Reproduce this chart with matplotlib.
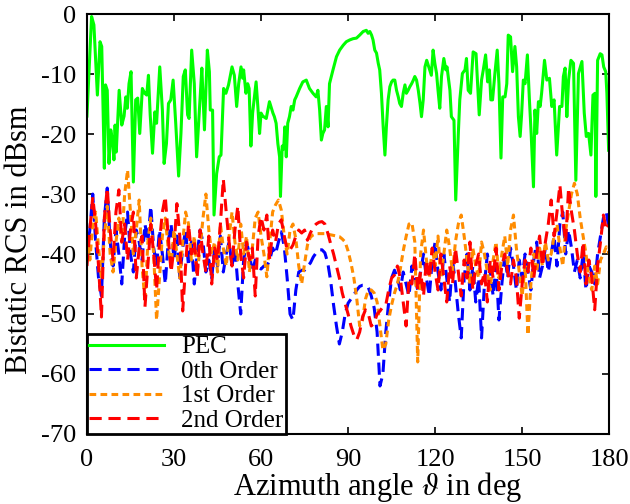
import matplotlib
matplotlib.use("Agg")
import matplotlib.pyplot as plt
import numpy as np

plt.rcParams['font.family'] = ['Liberation Serif', 'DejaVu Serif']
plt.rcParams['mathtext.fontset'] = 'stix'
plt.rcParams['axes.unicode_minus'] = False

# PEC (green) samples: angle (deg), RCS (dBsm)
pec_x = [0, 1.6, 2.4, 3.6, 4.5, 5.1, 6.0, 6.4, 7.0, 7.6, 8.2, 8.8, 9.3, 9.7, 10.1, 11.1, 12.0, 12.8, 13.4, 13.9,
         14.5, 15.2, 16.0, 16.8, 17.5, 18.2, 19.1, 19.9, 20.6, 21.2, 21.8, 22.6, 23.4, 24.0, 25.1, 26.0, 26.6, 27.4,
         28.1, 28.9, 29.7, 30.6, 31.6, 32.4, 33.2, 33.9, 34.7, 35.2, 36.1, 37.0, 37.8, 38.5, 39.0, 39.6, 40.5, 41.5,
         42.2, 42.5, 43.3, 43.8, 44.7, 45.6, 46.2, 47.1, 47.9, 48.8, 50.0, 50.8, 51.6, 52.3, 53.1, 53.7, 54.0, 54.8,
         55.4, 55.9, 56.5, 57.1, 58.3, 58.9, 59.5, 60.0, 60.6, 61.8, 62.9, 64.1, 64.6, 65.2, 65.8, 66.4, 66.7, 67.3,
         67.8, 68.2, 68.7, 69.2, 69.8, 70.4, 71.0, 71.6, 72.1, 73.3, 74.4, 75.6, 76.7, 77.9, 79.0, 79.6, 80.2, 80.8,
         81.3, 81.9, 82.5, 83.1, 83.6, 84.8, 86.0, 87.1, 88.3, 89.4, 90.6, 91.7, 92.9, 94.0, 95.2, 96.3, 96.9, 97.5,
         98.1, 98.6, 99.2, 99.8, 100.4, 100.9, 101.5, 102.1, 102.7, 103.2, 103.8, 104.4, 105.0, 105.5, 106.1, 106.7,
         107.3, 107.8, 108.4, 109.0, 109.6, 110.1, 110.7, 111.3, 111.9, 112.5, 113.0, 113.6, 114.2, 114.8, 115.3,
         115.9, 116.5, 117.1, 118.7, 119.3, 119.9, 120.5, 121.0, 121.6, 122.2, 123.0, 123.7, 124.1, 125.1, 125.6,
         126.5, 127.1, 128.0, 128.5, 129.4, 130.3, 130.8, 131.4, 132.2, 133.1, 134.1, 135.2, 136.0, 136.6, 137.4,
         138.1, 138.7, 139.2, 139.8, 140.6, 141.4, 142.0, 142.7, 143.3, 144.1, 144.7, 145.2, 146.0, 146.7, 147.5,
         148.1, 148.7, 149.3, 149.8, 150.4, 151.0, 151.8, 152.5, 153.1, 153.9, 154.4, 155.0, 155.6, 156.2, 156.7,
         157.7, 158.5, 159.4, 160.2, 161.0, 161.9, 162.9, 163.7, 164.2, 164.8, 165.4, 166.0, 166.8, 167.7, 168.5,
         169.4, 170.6, 171.4, 172.1, 172.9, 173.7, 174.4, 175.1, 175.4, 176.0, 176.9, 177.5, 178.1, 178.8, 179.2,
         179.8]
pec_y = [-17, -0.4, -1.8, -13.5, -4.6, -5.4, -25.7, -11.8, -12.7, -24.9, -19.3, -21, -24.3, -18.5, -23, -12.7,
         -18.5, -17, -13.8, -15.7, -11.6, -9.6, -28, -14.3, -14, -19.9, -12.4, -13.2, -13.5, -10.2, -16.8, -23.2,
         -16.3, -18.2, -8.8, -16, -24.9, -21.6, -14.9, -14.3, -11, -18.2, -27, -19.9, -10.4, -9.3, -16.8, -17.4,
         -6, -11.6, -23.8, -18.2, -14, -9, -19.3, -6, -9.6, -16, -16, -33.5, -26.6, -23.8, -23.5, -12.4, -13.2,
         -11.8, -8.8, -10.2, -15.4, -11.6, -8.8, -10.7, -9.3, -13.2, -11.6, -12.4, -22, -16.5, -11.3, -15.4, -19.9,
         -16.5, -17, -17.4, -14.6, -16.5, -17.1, -18.2, -21.6, -23.8, -30.4, -22, -22.5, -18.8, -23.8, -18.2,
         -17.1, -15.4, -16, -14.3, -13.8, -12.4, -11.3, -11, -12.4, -13.2, -13.8, -12.7, -16, -21, -19.9, -19.3,
         -15.4, -18.8, -11.6, -9.3, -7.1, -6, -5.2, -4.6, -4.3, -4.1, -4.0, -3.5, -2.9, -2.7, -3.2, -2.9, -3.5,
         -4.3, -6, -6.5, -8.2, -9.3, -13.2, -18.8, -23.5, -18.8, -14.3, -12.1, -11.3, -11, -11, -12.7, -13.8,
         -14.9, -15.4, -13.2, -11.8, -13.2, -12.7, -12.1, -11.6, -11, -10.4, -11, -12.7, -14.9, -17.1, -14.3,
         -8.8, -7.7, -10.2, -6, -8.2, -9.9, -12.7, -15.7, -10.4, -7.4, -9.3, -8.8, -12.7, -17.1, -17.7, -31,
         -19.9, -14.3, -9.9, -9.3, -7.4, -12.7, -13.2, -6.3, -6.6, -16.8, -11, -9.3, -6.8, -11.3, -9.3, -14.3,
         -14.3, -9.9, -6, -11.6, -24, -13.8, -13.8, -11.6, -3.5, -3.8, -9.6, -5.4, -8.8, -17.1, -20.4, -16.8,
         -11, -11.6, -6.8, -14.3, -19.9, -28.8, -16, -19.9, -14.6, -15.4, -13.2, -7.7, -11, -10.7, -15.4, -14.3,
         -23.5, -15.4, -15.4, -10.4, -9, -17.1, -11, -7.7, -8.2, -27.7, -9.9, -7.9, -16.5, -20.4, -19.9, -23.5,
         -13.5, -13.2, -30.4, -7.7, -6.6, -6.8, -8.8, -9.6, -13.2, -22.7]

# Approximation orders: one sample per degree, 0..180
angles = list(range(0, 181))
order0 = [-40, -36, -30, -38, -44, -47, -34, -29, -38, -42,
          -36, -40, -45, -37, -33, -40, -43, -36, -38, -41,
          -35, -38, -32, -39, -42, -36, -40, -45, -38, -35,
          -41, -37, -44, -39, -36, -42, -38, -45, -40, -36,
          -38, -43, -41, -44, -39, -42, -37, -43, -40, -38,
          -42, -39, -45, -50, -41, -38, -40, -43, -41, -42,
          -42.5, -42, -42, -41, -39, -40, -38, -36.3, -38.8, -44,
          -50, -51, -46, -43, -42.7, -42.7, -42, -41.5, -40.5, -39.8,
          -39.3, -39.3, -39.8, -41.5, -44.5, -48.5, -52, -55, -53, -50,
          -48.2, -47.5, -46.8, -46, -45.4, -45.2, -45.2, -45.6, -47, -49,
          -53, -62, -60, -53, -48, -44, -42.7, -44, -46, -43,
          -45, -47, -42, -44, -46, -43, -40, -44, -47, -41,
          -38, -43, -46, -40, -44, -48, -41, -45, -50, -54,
          -44, -40, -46, -42, -48, -44, -54, -45, -40, -43,
          -47, -42, -51, -45, -40, -44, -39, -42, -46, -41,
          -44, -40, -43, -46, -41, -38, -44, -42, -39, -43,
          -40, -37, -42, -35, -33, -40, -36, -39, -43, -41,
          -44, -40, -46, -42, -43, -45, -40, -37, -34, -33,
          -36]
order1 = [-37, -41, -35, -33, -39, -44, -37, -32, -40, -43,
          -38, -34, -38, -30, -26, -33, -40, -36, -31, -42,
          -48, -38, -34, -40, -51, -44, -37, -34, -39, -42,
          -36, -40, -44, -38, -33, -35, -41, -37, -43, -39,
          -34, -30, -36, -40, -38, -43, -35, -39, -42, -37,
          -33, -38, -41, -35, -40, -37, -43, -39, -34, -33,
          -37, -40, -43.8, -38, -33, -31.8, -31, -32.7, -37, -40,
          -36, -35, -37.5, -42, -45, -41.6, -38.5, -37.2, -36.8, -36.6,
          -36.6, -36.6, -36.6, -36.7, -36.8, -36.9, -37, -37.1, -37.5, -38,
          -39.5, -41.5, -44, -47.5, -52, -51, -47.5, -46, -46, -46.5,
          -48, -52, -56, -55, -51, -48.5, -46.5, -45, -42.5, -39.5,
          -37.1, -35, -34.8, -38, -58, -40, -36, -41, -44, -39,
          -42, -37, -44, -40, -36, -39, -43, -38, -35, -33.5,
          -37, -41, -45, -39, -42, -44, -38, -40, -43, -46,
          -41, -38, -44, -40, -37, -42, -36, -33.5, -39, -43,
          -47, -42, -53.5, -45, -40, -43, -39, -42, -38, -41,
          -40, -37, -35, -39, -42, -36, -33, -30, -28.2, -30,
          -34, -37, -40, -44, -46, -42, -45, -41, -40, -38.8,
          -40]
order2 = [-42, -36, -30.5, -35, -42, -50.5, -34, -29, -36, -41,
          -33, -29.3, -38, -35, -41, -36, -33, -44, -39, -37,
          -48.8, -42, -35, -40, -46, -38, -33, -30.4, -37, -43,
          -39, -31.6, -37, -49.5, -42, -35, -40, -38, -44, -36,
          -40, -43, -37, -45, -39, -41, -35, -27.5, -33, -38,
          -42, -36, -32, -40, -44, -38, -41, -39, -47, -37,
          -33.8, -36, -33.5, -41, -36, -38, -35, -34.3, -37, -39.3,
          -39.3, -38.5, -37, -36, -36.5, -36, -37.7, -36.5, -35.5, -35,
          -34.7, -34.6, -35, -36.5, -38.3, -40, -42, -44, -46.5, -48.3,
          -50, -52, -53.5, -54.3, -53, -50.5, -49.3, -50, -52, -51.5,
          -50, -49.5, -48.8, -48.5, -46, -44, -43.5, -42, -44, -48,
          -52, -44, -45, -40, -46, -43, -47, -41, -44, -39,
          -43, -46, -40, -44, -48, -42, -45, -39, -43, -47,
          -41, -44, -38, -46, -42, -40, -45, -43, -48, -41,
          -44, -39, -46, -42, -40, -43, -45, -41, -44, -50.7,
          -45, -41, -43, -39, -44, -40, -37, -42, -38, -35,
          -31, -37, -33, -28.5, -34, -38, -29, -33, -36, -40,
          -43, -38, -45, -41, -44, -49.3, -42, -38, -33.5, -36,
          -35]

labels = ['PEC', '0th Order', '1st Order', '2nd Order']
xticks = [0, 30, 60, 90, 120, 150, 180]
yticks = [-70, -60, -50, -40, -30, -20, -10, 0]

fig = plt.figure(figsize=(6.3, 5.04), dpi=100)
ax = fig.add_axes([0.138, 0.139, 0.829, 0.833])

lw = 2.2
ax.plot(pec_x, pec_y, color='#00ff00', lw=lw, label=labels[0])
ax.plot(angles, order0, color='#0000ff', lw=lw, dashes=(4, 2.2), label=labels[1])
ax.plot(angles, order1, color='#ff8c00', lw=lw, dashes=(2.2, 1.4), label=labels[2])
ax.plot(angles, order2, color='#ff0000', lw=lw, dashes=(4, 2.2), label=labels[3])

ax.set_xlim(0, 180)
ax.set_ylim(-70, 0)
ax.set_xticks(xticks)
ax.set_yticks(yticks)
ax.tick_params(direction='in', top=True, right=True, labelsize=19, length=5, width=1.2, pad=11)
ax.tick_params(axis='y', pad=8)
for s in ax.spines.values():
    s.set_linewidth(1.5)

ax.set_xlabel(r'Azimuth angle $\vartheta$ in deg', fontsize=22)
ax.set_ylabel('Bistatic RCS in dBsm', fontsize=22)
ax.xaxis.set_label_coords(0.557, -0.126, transform=ax.transAxes)
ax.yaxis.set_label_coords(-0.13, 0.462, transform=ax.transAxes)
ax.xaxis.label.set_va('center')
ax.yaxis.label.set_va('center')

leg = ax.legend(loc='lower left', fontsize=18, frameon=True, fancybox=False, framealpha=1,
                edgecolor='black', borderaxespad=0.0, handlelength=3.0, handletextpad=0.7,
                labelspacing=0.08, borderpad=0.08)
leg.get_frame().set_linewidth(2.0)

fig.savefig('out.png', dpi=100)
